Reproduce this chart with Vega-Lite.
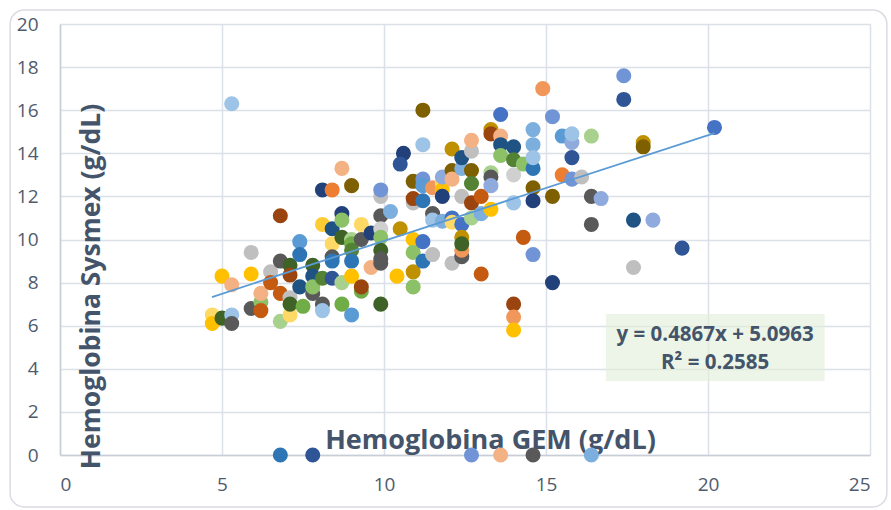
{
  "$schema": "https://vega.github.io/schema/vega-lite/v6.json",
  "width": 810,
  "height": 431,
  "autosize": {"type": "none"},
  "padding": {"left": 60, "top": 24, "right": 21, "bottom": 55},
  "background": "white",
  "config": {
    "view": {"stroke": null},
    "font": "Open Sans"
  },
  "datasets": {
    "pts": [
      {"x":4.7,"y":6.5,"c":"y4"},{"x":4.7,"y":6.1,"c":"y1"},{"x":5.0,"y":6.35,"c":"n2"},{"x":5.3,"y":6.5,"c":"c4"},{"x":5.3,"y":6.1,"c":"g2"},
      {"x":5.0,"y":8.3,"c":"y1"},{"x":5.3,"y":7.9,"c":"o4"},{"x":5.3,"y":16.3,"c":"c4"},{"x":5.9,"y":8.4,"c":"y1"},{"x":5.9,"y":9.4,"c":"g3"},
      {"x":5.9,"y":6.8,"c":"g2"},{"x":6.2,"y":7.1,"c":"n3"},{"x":6.2,"y":7.5,"c":"o4"},{"x":6.2,"y":6.7,"c":"o5"},{"x":6.5,"y":8.5,"c":"g3"},
      {"x":6.5,"y":8.0,"c":"o5"},{"x":6.8,"y":9.0,"c":"g2"},{"x":6.8,"y":7.5,"c":"o5"},{"x":6.8,"y":6.2,"c":"n4"},{"x":6.8,"y":11.1,"c":"o2"},
      {"x":7.1,"y":8.8,"c":"n2"},{"x":7.1,"y":8.35,"c":"o2"},{"x":7.1,"y":6.5,"c":"y4"},{"x":7.1,"y":7.3,"c":"g3"},{"x":7.1,"y":7.0,"c":"n2"},
      {"x":7.4,"y":9.9,"c":"c1"},{"x":7.4,"y":9.3,"c":"c5"},{"x":7.4,"y":7.8,"c":"c2"},{"x":7.5,"y":6.9,"c":"n1"},{"x":7.8,"y":8.8,"c":"n2"},
      {"x":7.8,"y":8.3,"c":"c2"},{"x":7.8,"y":7.5,"c":"g2"},{"x":7.8,"y":7.8,"c":"n3"},{"x":8.1,"y":8.2,"c":"n5"},{"x":8.1,"y":7.0,"c":"g2"},
      {"x":8.1,"y":6.7,"c":"c4"},{"x":8.1,"y":12.3,"c":"b2"},{"x":8.1,"y":10.7,"c":"y3"},{"x":8.4,"y":12.3,"c":"o1"},{"x":8.4,"y":10.5,"c":"c2"},
      {"x":8.4,"y":9.8,"c":"y4"},{"x":8.4,"y":9.2,"c":"g2"},{"x":8.4,"y":9.0,"c":"c5"},{"x":8.4,"y":8.2,"c":"b5"},{"x":8.7,"y":13.3,"c":"o4"},
      {"x":8.7,"y":11.2,"c":"b2"},{"x":8.7,"y":10.9,"c":"n3"},{"x":8.7,"y":10.1,"c":"n2"},{"x":8.7,"y":8.0,"c":"n4"},{"x":8.7,"y":7.0,"c":"n1"},
      {"x":9.0,"y":12.5,"c":"y2"},{"x":9.0,"y":10.0,"c":"n4"},{"x":9.0,"y":9.8,"c":"n1"},{"x":9.0,"y":9.5,"c":"n5"},{"x":9.0,"y":9.0,"c":"c5"},
      {"x":9.0,"y":8.3,"c":"y1"},{"x":9.0,"y":6.5,"c":"c1"},{"x":9.3,"y":10.7,"c":"y4"},{"x":9.3,"y":10.0,"c":"g2"},{"x":9.3,"y":7.6,"c":"n1"},
      {"x":9.3,"y":7.8,"c":"o2"},{"x":9.6,"y":10.3,"c":"b2"},{"x":9.6,"y":8.7,"c":"o4"},{"x":9.9,"y":12.0,"c":"g3"},{"x":9.9,"y":12.3,"c":"b3"},
      {"x":9.9,"y":11.1,"c":"g2"},{"x":9.9,"y":10.5,"c":"g4"},{"x":9.9,"y":10.1,"c":"n3"},{"x":9.9,"y":9.5,"c":"n2"},{"x":9.9,"y":8.9,"c":"g2"},
      {"x":9.9,"y":9.1,"c":"g2"},{"x":9.9,"y":7.0,"c":"n2"},{"x":10.2,"y":11.3,"c":"c3"},{"x":10.5,"y":10.5,"c":"y5"},{"x":10.4,"y":8.3,"c":"y1"},
      {"x":10.6,"y":14.0,"c":"b2"},{"x":10.5,"y":13.5,"c":"b5"},{"x":10.9,"y":12.7,"c":"y2"},{"x":10.9,"y":11.7,"c":"g3"},{"x":10.9,"y":11.9,"c":"o2"},
      {"x":10.9,"y":10.0,"c":"y1"},{"x":10.9,"y":9.4,"c":"n3"},{"x":10.9,"y":8.5,"c":"y5"},{"x":10.9,"y":7.8,"c":"n3"},{"x":11.2,"y":16.0,"c":"y2"},
      {"x":11.2,"y":14.4,"c":"c4"},{"x":11.2,"y":12.8,"c":"b3"},{"x":11.2,"y":12.5,"c":"c1"},{"x":11.2,"y":11.8,"c":"c5"},{"x":11.2,"y":9.9,"c":"b1"},
      {"x":11.2,"y":9.0,"c":"c5"},{"x":11.5,"y":11.2,"c":"g2"},{"x":11.5,"y":10.9,"c":"c4"},{"x":11.5,"y":9.3,"c":"g3"},{"x":11.5,"y":12.4,"c":"o3"},
      {"x":11.8,"y":12.6,"c":"y4"},{"x":11.8,"y":12.3,"c":"y1"},{"x":11.8,"y":12.0,"c":"b2"},{"x":11.8,"y":12.9,"c":"b4"},{"x":11.8,"y":10.85,"c":"c3"},
      {"x":12.1,"y":14.2,"c":"y5"},{"x":12.1,"y":13.2,"c":"y2"},{"x":12.1,"y":12.8,"c":"o4"},{"x":12.1,"y":11.0,"c":"b1"},{"x":12.1,"y":10.8,"c":"y4"},
      {"x":12.1,"y":8.9,"c":"g3"},{"x":12.4,"y":13.3,"c":"c3"},{"x":12.4,"y":13.8,"c":"c2"},{"x":12.4,"y":12.0,"c":"g3"},{"x":12.4,"y":10.7,"c":"b1"},
      {"x":12.4,"y":9.2,"c":"g2"},{"x":12.4,"y":9.5,"c":"o3"},{"x":12.4,"y":10.1,"c":"y5"},{"x":12.4,"y":9.8,"c":"n2"},{"x":12.7,"y":14.1,"c":"g3"},
      {"x":12.7,"y":14.6,"c":"o4"},{"x":12.7,"y":13.2,"c":"y2"},{"x":12.7,"y":12.6,"c":"n5"},{"x":12.7,"y":11.7,"c":"o2"},{"x":12.7,"y":11.0,"c":"n4"},
      {"x":12.7,"y":0,"c":"b3"},{"x":13.0,"y":12.0,"c":"o5"},{"x":13.0,"y":11.2,"c":"c3"},{"x":13.0,"y":8.4,"c":"o5"},{"x":13.3,"y":15.1,"c":"y5"},
      {"x":13.3,"y":14.9,"c":"o2"},{"x":13.3,"y":13.1,"c":"n4"},{"x":13.3,"y":12.9,"c":"g2"},{"x":13.3,"y":12.5,"c":"b4"},{"x":13.3,"y":11.4,"c":"y1"},
      {"x":13.6,"y":15.8,"c":"b1"},{"x":13.6,"y":14.8,"c":"o4"},{"x":13.6,"y":14.4,"c":"c2"},{"x":13.6,"y":13.9,"c":"n3"},{"x":13.6,"y":0,"c":"o4"},
      {"x":14.0,"y":14.3,"c":"c2"},{"x":14.0,"y":13.7,"c":"n5"},{"x":14.0,"y":13.0,"c":"g4"},{"x":14.0,"y":11.7,"c":"c4"},{"x":14.0,"y":7.0,"c":"o2"},
      {"x":14.0,"y":6.4,"c":"o3"},{"x":14.0,"y":5.8,"c":"y1"},{"x":14.3,"y":13.5,"c":"n3"},{"x":14.3,"y":10.1,"c":"o5"},{"x":14.6,"y":15.1,"c":"c3"},
      {"x":14.6,"y":14.4,"c":"c3"},{"x":14.6,"y":13.3,"c":"c5"},{"x":14.6,"y":13.8,"c":"c4"},{"x":14.6,"y":12.4,"c":"y2"},{"x":14.6,"y":11.8,"c":"b2"},
      {"x":14.6,"y":9.3,"c":"b3"},{"x":14.6,"y":0,"c":"g2"},{"x":14.9,"y":17.0,"c":"o3"},{"x":15.2,"y":15.7,"c":"b3"},{"x":15.2,"y":12.0,"c":"y2"},
      {"x":15.2,"y":8.0,"c":"b2"},{"x":15.5,"y":14.8,"c":"c1"},{"x":15.5,"y":13.0,"c":"o1"},{"x":15.8,"y":14.5,"c":"b4"},{"x":15.8,"y":14.9,"c":"c4"},
      {"x":15.8,"y":13.8,"c":"b5"},{"x":15.8,"y":12.8,"c":"b3"},{"x":16.1,"y":12.9,"c":"g3"},{"x":16.4,"y":14.8,"c":"n4"},{"x":16.4,"y":12.0,"c":"g2"},
      {"x":16.4,"y":10.7,"c":"g2"},{"x":16.4,"y":0,"c":"c3"},{"x":16.7,"y":11.9,"c":"b4"},{"x":17.4,"y":17.6,"c":"b3"},{"x":17.4,"y":16.5,"c":"b5"},
      {"x":17.7,"y":10.9,"c":"c2"},{"x":17.7,"y":8.7,"c":"g3"},{"x":18.0,"y":14.5,"c":"y5"},{"x":18.0,"y":14.3,"c":"y2"},{"x":18.3,"y":10.9,"c":"b4"},
      {"x":19.2,"y":9.6,"c":"b5"},{"x":20.2,"y":15.2,"c":"b1"},{"x":6.8,"y":0,"c":"c5"},{"x":7.8,"y":0,"c":"b5"}
    ],
    "trend": [
      {"x": 4.69, "y": 7.33},
      {"x": 20.2, "y": 14.94}
    ],
    "frame": [{"x": -1.54, "x2": 25.52, "y": 20.65, "y2": -2.41}],
    "box": [{"x": 16.85, "x2": 23.6, "y": 6.54, "y2": 3.43}],
    "eq": [
      {"x": 20.22, "y": 5.57, "label": "y = 0.4867x + 5.0963"},
      {"x": 20.22, "y": 4.27, "label": "R² = 0.2585"}
    ]
  },
  "layer": [
    {
      "data": {"name": "pts"},
      "mark": {"type": "circle", "size": 227, "opacity": 1},
      "encoding": {
        "x": {
          "field": "x", "type": "quantitative",
          "scale": {"domain": [0, 25], "nice": false},
          "axis": {
            "grid": true, "gridColor": "#DCE0E8", "gridWidth": 1.5,
            "domainColor": "#C8CDD8", "domainWidth": 1.5,
            "tickSize": 0,
            "values": [0, 5, 10, 15, 20, 25],
            "labelFont": "Open Sans", "labelFontSize": 19, "labelColor": "#4F5B6D",
            "labelPadding": 20,
            "title": "Hemoglobina GEM (g/dL)",
            "titleFont": "Open Sans", "titleFontWeight": "bold", "titleColor": "#44546A",
            "titleFontSize": 27,
            "titleX": 430, "titleY": -15,
            "titleAlign": "center", "titleBaseline": "middle"
          }
        },
        "y": {
          "field": "y", "type": "quantitative",
          "scale": {"domain": [0, 20], "nice": false},
          "axis": {
            "grid": true, "gridColor": "#DCE0E8", "gridWidth": 1.5,
            "domainColor": "#C8CDD8", "domainWidth": 1.5,
            "tickSize": 0,
            "values": [0, 2, 4, 6, 8, 10, 12, 14, 16, 18, 20],
            "labelFont": "Open Sans", "labelFontSize": 19, "labelColor": "#4F5B6D",
            "labelPadding": 22,
            "title": "Hemoglobina Sysmex (g/dL)",
            "titleFont": "Open Sans", "titleFontWeight": "bold", "titleColor": "#44546A",
            "titleFontSize": 26.5,
            "titleAngle": -90,
            "titleX": 31, "titleY": 262,
            "titleAlign": "center", "titleBaseline": "middle"
          }
        },
        "color": {
          "field": "c", "type": "nominal", "legend": null,
          "scale": {
            "domain": ["b1","b2","b3","b4","b5","o1","o2","o3","o4","o5","g2","g3","g4","y1","y2","y3","y4","y5","c1","c2","c3","c4","c5","n1","n2","n3","n4","n5"],
            "range": ["#4472C4","#22407A","#7094D6","#8FAADC","#2F5597","#ED7D31","#9A450F","#F1975A","#F4B183","#C55A11","#595959","#BFBFBF","#D0D0D0","#FFC000","#7F6000","#FFCD33","#FFD966","#BF9000","#5B9BD5","#1F5383","#7CAFDD","#9DC3E6","#2E75B6","#70AD47","#3F6327","#8CC168","#A9D18E","#548235"]
          }
        }
      }
    },
    {
      "data": {"name": "frame"},
      "mark": {"type": "rect", "filled": false, "stroke": "#D9DCE2", "strokeWidth": 1.5, "cornerRadius": 14, "clip": false},
      "encoding": {
        "x": {"field": "x", "type": "quantitative"},
        "x2": {"field": "x2"},
        "y": {"field": "y", "type": "quantitative"},
        "y2": {"field": "y2"}
      }
    },
    {
      "data": {"name": "box"},
      "mark": {"type": "rect", "fill": "#E2EFDA", "opacity": 0.65},
      "encoding": {
        "x": {"field": "x", "type": "quantitative"},
        "x2": {"field": "x2"},
        "y": {"field": "y", "type": "quantitative"},
        "y2": {"field": "y2"}
      }
    },
    {
      "data": {"name": "trend"},
      "mark": {"type": "line", "color": "#5B9BD5", "strokeWidth": 1.8},
      "encoding": {
        "x": {"field": "x", "type": "quantitative"},
        "y": {"field": "y", "type": "quantitative"}
      }
    },
    {
      "data": {"name": "eq"},
      "mark": {"type": "text", "font": "Open Sans", "fontWeight": "bold", "fontSize": 20.5, "color": "#44546A", "align": "center", "baseline": "middle"},
      "encoding": {
        "x": {"field": "x", "type": "quantitative"},
        "y": {"field": "y", "type": "quantitative"},
        "text": {"field": "label"}
      }
    }
  ]
}
